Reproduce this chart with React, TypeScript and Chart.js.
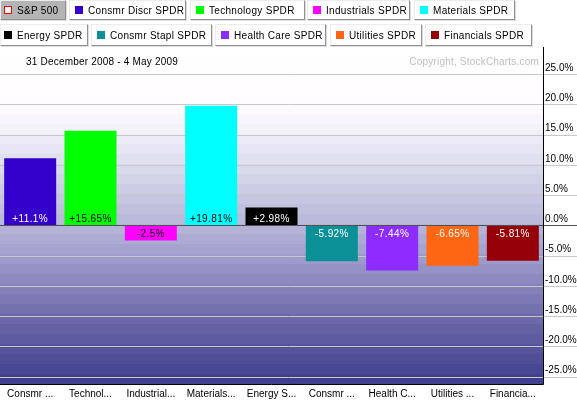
import React, { useEffect, useRef } from "react";
import { Chart, registerables } from "chart.js";
Chart.register(...registerables);

const FONT = '"Liberation Sans", Arial, sans-serif';

const categories = ["Consmr ...", "Technol...", "Industrial...", "Materials...", "Energy S...", "Consmr ...", "Health C...", "Utilities ...", "Financia..."];
const values = [11.1, 15.65, -2.5, 19.81, 2.98, -5.92, -7.44, -6.65, -5.81];
const valueLabels = ["+11.1%", "+15.65%", "-2.5%", "+19.81%", "+2.98%", "-5.92%", "-7.44%", "-6.65%", "-5.81%"];
const barColors = ["#3300cc", "#00ff00", "#ff00ff", "#00ffff", "#000000", "#0a9096", "#8c2cff", "#ff6614", "#960008"];
const labelColors = ["#ffffff", "#000000", "#000000", "#000000", "#ffffff", "#ffffff", "#ffffff", "#ffffff", "#ffffff"];

const legendNames1 = ["S&P 500", "Consmr Discr SPDR", "Technology SPDR", "Industrials SPDR", "Materials SPDR"];
const legendColors1 = ["none", "#3300cc", "#00ff00", "#ff00ff", "#00ffff"];
const legendNames2 = ["Energy SPDR", "Consmr Stapl SPDR", "Health Care SPDR", "Utilities SPDR", "Financials SPDR"];
const legendColors2 = ["#000000", "#0a9096", "#8c2cff", "#ff6614", "#960008"];

const titleText = "31 December 2008 - 4 May 2009";
const copyrightText = "Copyright, StockCharts.com";

// layout (not data)
const row1Layout = [[0, 66], [69, 117], [190, 115], [307, 103], [414, 101]];
const row2Layout = [[0, 88], [91, 121], [215, 111], [330, 92], [425, 107]];

const gradStops: [number, number[]][] = [
  [0, [255, 255, 255]], [0.172, [255, 252, 255]], [0.26, [240, 238, 248]], [0.35, [220, 220, 238]],
  [0.44, [200, 200, 226]], [0.53, [182, 182, 216]], [0.62, [160, 158, 205]], [0.71, [135, 132, 188]],
  [0.8, [110, 106, 170]], [0.89, [88, 86, 156]], [0.98, [66, 66, 143]], [1, [60, 60, 138]],
];

function colorAt(o: number) {
  for (let i = 1; i < gradStops.length; i++) {
    const [o1, c1] = gradStops[i];
    const [o0, c0] = gradStops[i - 1];
    if (o <= o1) {
      const t = (o - o0) / (o1 - o0 || 1);
      const c = c0.map((v, k) => Math.round(v + (c1[k] - v) * t));
      return `rgb(${c[0]},${c[1]},${c[2]})`;
    }
  }
  const c = gradStops[gradStops.length - 1][1];
  return `rgb(${c[0]},${c[1]},${c[2]})`;
}

const chartPlugin = {
  id: "sc",
  beforeDraw(chart: any) {
    const { ctx, chartArea: a } = chart;
    const y = chart.scales.y;
    ctx.save();
    ctx.fillStyle = "#ffffff";
    ctx.fillRect(0, 0, chart.width, chart.height);
    const H = a.bottom - a.top;
    const base = Math.round(y.getPixelForValue(20));
    let start = base;
    while (start > a.top) start -= 10;
    for (let yy = start; yy < a.bottom; yy += 10) {
      const y0 = Math.max(yy, a.top);
      const y1 = Math.min(yy + 10, a.bottom);
      if (y1 <= y0) continue;
      ctx.fillStyle = colorAt((yy + 5 - a.top) / H);
      ctx.fillRect(a.left, y0, a.right - a.left, y1 - y0);
    }
    ctx.lineWidth = 1;
    for (const t of y.ticks) {
      if (t.value === 0) continue;
      const py = Math.round(y.getPixelForValue(t.value)) + 0.5;
      ctx.strokeStyle = "#c8c8c8";
      ctx.beginPath();
      ctx.moveTo(0, py);
      ctx.lineTo(chart.width, py);
      ctx.stroke();
    }
    ctx.font = "10px " + FONT;
    (ctx as any).letterSpacing = "0.2px";
    ctx.textBaseline = "middle";
    ctx.textAlign = "left";
    ctx.fillStyle = "#000000";
    ctx.fillText(titleText, 26, 62);
    ctx.textAlign = "right";
    ctx.fillStyle = "#c0c0c0";
    ctx.fillText(copyrightText, 539, 62);
    ctx.restore();
  },
  afterDatasetsDraw(chart: any) {
    const { ctx, chartArea: a } = chart;
    const y = chart.scales.y;
    const zero = Math.round(y.getPixelForValue(0)) + 0.5;
    ctx.save();
    ctx.lineWidth = 1;
    ctx.strokeStyle = "#505050";
    ctx.beginPath();
    ctx.moveTo(0, zero);
    ctx.lineTo(chart.width, zero);
    ctx.stroke();
    ctx.strokeStyle = "#000000";
    ctx.beginPath();
    ctx.moveTo(Math.round(a.right) + 0.5, a.top);
    ctx.lineTo(Math.round(a.right) + 0.5, Math.round(a.bottom) + 0.5);
    ctx.lineTo(0, Math.round(a.bottom) + 0.5);
    ctx.stroke();
    const meta = chart.getDatasetMeta(0);
    ctx.font = "10px " + FONT;
    (ctx as any).letterSpacing = "0.4px";
    ctx.textAlign = "center";
    ctx.textBaseline = "middle";
    meta.data.forEach((bar: any, i: number) => {
      ctx.fillStyle = labelColors[i];
      const ty = values[i] >= 0 ? zero - 6 : zero + 9;
      ctx.fillText(valueLabels[i], bar.x, ty);
    });
    ctx.restore();
  },
};

function LegendRow({ names, colors, layout, top, height }: any) {
  return (
    <>
      {names.map((n: string, i: number) => {
        const [left, w] = layout[i];
        const pressed = colors[i] === "none";
        return (
          <div
            key={n}
            style={{
              position: "absolute",
              left,
              top,
              width: w,
              height,
              boxSizing: "border-box",
              background: pressed ? "#b4b4b4" : "#ffffff",
              borderTop: "1px solid #ececec",
              borderLeft: "1px solid #ececec",
              borderRight: "1px solid #909090",
              borderBottom: "1px solid #909090",
              boxShadow: "1px 1px 0 #dcdcdc",
              display: "flex",
              alignItems: "center",
              paddingLeft: i === 0 ? 3 : 5,
              fontFamily: FONT,
              fontSize: 10,
              letterSpacing: "0.3px",
              color: "#000",
              whiteSpace: "nowrap",
              overflow: "hidden",
            }}
          >
            <span
              style={{
                display: "inline-block",
                width: 8,
                height: 8,
                boxSizing: "border-box",
                background: pressed ? "#ffffff" : colors[i],
                border: pressed ? "1px solid #ff0000" : "none",
                marginRight: 5,
                flex: "none",
              }}
            />
            <span>{n}</span>
          </div>
        );
      })}
    </>
  );
}

export default function App() {
  const ref = useRef<HTMLCanvasElement>(null);
  useEffect(() => {
    if (!ref.current) return;
    const chart = new Chart(ref.current, {
      type: "bar",
      data: {
        labels: categories,
        datasets: [
          {
            data: values,
            backgroundColor: barColors,
            borderWidth: 0,
            categoryPercentage: 1,
            barPercentage: 0.862,
          },
        ],
      },
      options: {
        responsive: false,
        animation: false,
        devicePixelRatio: 1,
        layout: { padding: { top: 47, left: 0, right: 0, bottom: 0 } },
        plugins: { legend: { display: false }, tooltip: { enabled: false }, title: { display: false } },
        scales: {
          x: {
            grid: { display: false, drawTicks: false },
            border: { display: false },
            ticks: { color: "#000", font: { size: 10, family: FONT }, padding: 4, maxRotation: 0, autoSkip: false },
            afterFit: (s: any) => { s.height = 18; },
          },
          y: {
            position: "right",
            min: -26.2,
            max: 29.5,
            grid: { display: false, drawTicks: false },
            border: { display: false },
            ticks: {
              stepSize: 5,
              includeBounds: false,
              padding: 2,
              labelOffset: -6,
              color: "#000",
              font: { size: 10, family: FONT },
              callback: (v: any) => Number(v).toFixed(1) + "%",
            },
            afterFit: (s: any) => { s.width = 34; },
          },
        },
      },
      plugins: [chartPlugin],
    } as any);
    return () => chart.destroy();
  }, []);
  return (
    <div style={{ position: "absolute", left: 0, top: 0, width: 577, height: 402, background: "#fff" }}>
      <canvas ref={ref} width={577} height={402} style={{ display: "block", width: 577, height: 402 }} />
      <LegendRow names={legendNames1} colors={legendColors1} layout={row1Layout} top={0} height={20} />
      <LegendRow names={legendNames2} colors={legendColors2} layout={row2Layout} top={24} height={22} />
    </div>
  );
}
